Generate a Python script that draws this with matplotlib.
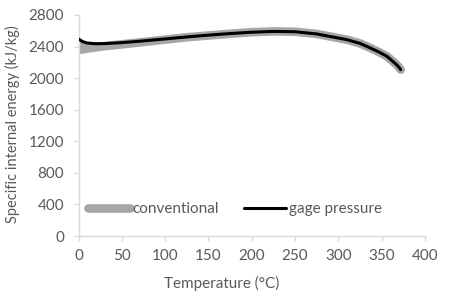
import matplotlib
matplotlib.use("Agg")
import matplotlib.pyplot as plt
import numpy as np

plt.rcParams['font.family'] = ['Lato', 'DejaVu Sans']

# Data
temperature = [0, 5, 10, 20, 30, 50, 75, 100, 125, 150, 175, 200, 225, 250,
               275, 300, 310, 325, 337, 347, 356, 365, 369, 372]
conventional = [2356, 2365, 2375, 2390, 2405, 2428, 2458, 2488, 2518, 2540,
                2562, 2582, 2592, 2588, 2560, 2508, 2487, 2440, 2382, 2330,
                2277, 2192, 2150, 2107]
gage_pressure = [2495, 2462, 2445, 2436, 2438, 2450, 2472, 2497, 2522, 2545,
                 2565, 2582, 2592, 2588, 2560, 2508, 2487, 2440, 2382, 2330,
                 2277, 2192, 2150, 2107]
x_ticks = [0, 50, 100, 150, 200, 250, 300, 350, 400]
y_ticks = [0, 400, 800, 1200, 1600, 2000, 2400, 2800]

gray = '#A6A6A6'
text_c = '#595959'
axis_c = '#D9D9D9'

fig = plt.figure(figsize=(4.5, 2.98), dpi=100)
ax = fig.add_axes([78.5 / 450, 1 - 236 / 298, 346.5 / 450, 221 / 298])

T = np.array(temperature)
conv = np.array(conventional)
gage = np.array(gage_pressure)

mask = T <= 150
ax.fill_between(T[mask], conv[mask], gage[mask], color=gray, lw=0, zorder=2)
ax.plot(T, conv, color=gray, lw=6.2, solid_capstyle='round', zorder=2,
        label='conventional')
ax.plot(T, gage, color='black', lw=2.2, solid_capstyle='round', zorder=3,
        label='gage pressure')

ax.set_xlim(0, 400)
ax.set_ylim(0, 2800)
ax.set_xticks(x_ticks)
ax.set_yticks(y_ticks)

for s in ['top', 'right']:
    ax.spines[s].set_visible(False)
for s in ['left', 'bottom']:
    ax.spines[s].set_color(axis_c)
    ax.spines[s].set_linewidth(1.0)

ax.tick_params(axis='both', colors=axis_c, labelcolor=text_c, labelsize=11,
               length=3.5, width=1.0, direction='out')
ax.tick_params(axis='y', pad=7)
ax.tick_params(axis='x', pad=6)

fig.text(221.7 / 450, 1 - 283 / 298, 'Temperature (°C)', ha='center',
         va='center', color=text_c, fontsize=11)
fig.text(12 / 450, 1 - 124 / 298, 'Specific internal energy (kJ/kg)',
         ha='center', va='center', rotation=90, color=text_c, fontsize=10.5)

leg = ax.legend(loc='center left', bbox_to_anchor=(0.0, 0.122), ncol=2,
                frameon=False, fontsize=11, handlelength=2.8,
                handletextpad=0.15, columnspacing=1.6, borderaxespad=0.2)
for t in leg.get_texts():
    t.set_color(text_c)

fig.savefig('out.png', dpi=100)
